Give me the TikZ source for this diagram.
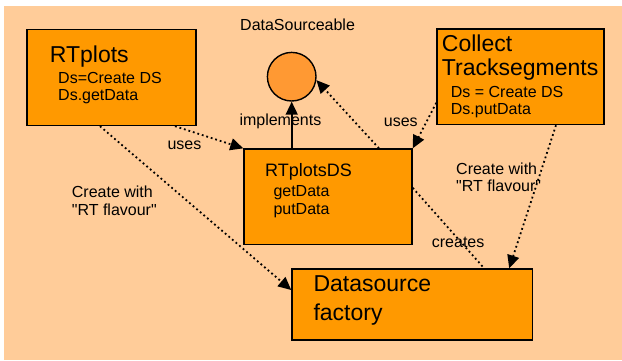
\documentclass[tikz,border=0pt]{standalone}
\usepackage{fontspec}
\setmainfont{Liberation Sans}[Ligatures=TeXOff]
\usetikzlibrary{arrows.meta,calc,positioning}
\definecolor{peach}{HTML}{FFCC99}
\definecolor{boxorange}{HTML}{FF9900}
\definecolor{ifaceorange}{HTML}{FF9933}

\begin{document}
\begin{tikzpicture}[x=1pt, y=-1pt,
    box/.style={draw, line width=1.4pt, fill=boxorange, inner sep=0pt},
    big/.style={font=\fontsize{23}{28.3}\selectfont, align=left, inner sep=0pt, anchor=base west},
    mid/.style={font=\fontsize{18}{21}\selectfont, inner sep=0pt, anchor=base west},
    small/.style={font=\fontsize{16}{17.7}\selectfont, align=left, inner sep=0pt, anchor=base west},
    uses/.style={line width=1.8pt, dash pattern=on 1.8pt off 2.9pt, -{Triangle[length=13pt,width=12pt]}},
    impl/.style={line width=1.6pt, -{Triangle[length=13pt,width=12pt]}}]
    \useasboundingbox (0,0) rectangle (622,360);
    \fill[peach] (4,6) rectangle (622,360);

    % Interface
    \node (iface) [draw, circle, line width=1.4pt, fill=ifaceorange, minimum size=48.6pt, inner sep=0pt] at (291.7,76.7) {};
    \node (ifaceName) [small] at (240,30.7) {DataSourceable};

    % Boxes (multi-line texts sit on their last baseline)
    \node (rtp) [box, minimum width=169pt, minimum height=96pt] at (111.5,77.5) {};
    \node (rtpTitle) [big] at (49.7,62.3) {RTplots};
    \node (rtpBody) [small] at (58,100.7) {Ds=Create DS\\Ds.getData};

    \node (rtds) [box, minimum width=168pt, minimum height=95.5pt] at (328,196.8) {};
    \node (rtdsTitle) [mid] at (265,176) {RTplotsDS};
    \node (rtdsBody) [small] at (273.3,214) {getData\\putData};

    \node (coll) [box, minimum width=167pt, minimum height=95.5pt] at (520.5,76.8) {};
    \node (collTitle) [big, font=\fontsize{23}{23.3}\selectfont] at (441.7,75) {Collect\\Tracksegments};
    \node (collBody) [small, font=\fontsize{16}{17}\selectfont] at (450.7,114.3) {Ds = Create DS\\Ds.putData};

    \node (dsf) [box, minimum width=240.5pt, minimum height=71pt] at (412.2,304.5) {};
    \node (dsfTitle) [big] at (313.3,320) {Datasource\\factory};

    % Labels
    \node (lblImpl) [small] at (239.3,125) {implements};
    \node (lblUsesL) [small] at (167.3,149.3) {uses};
    \node (lblUsesR) [small] at (383.7,126) {uses};
    \node (lblCreateL) [small] at (71.7,215) {Create with\\"RT flavour"};
    \node (lblCreateR) [small] at (456,191.7) {Create with\\"RT flavour"};
    \node (lblCreates) [small] at (431.7,247.7) {creates};

    % Arrows
    \draw[impl] (iface |- rtds.north) -- (iface.south);
    \draw[uses] ([xshift=51pt]rtds.north) -- (iface.-8);
    \draw[uses] ([xshift=63.5pt]rtp.south) -- (rtds.north west);
    \draw[uses] ([yshift=-26pt]coll.west) -- (rtds.north east);
    \draw[uses] ([xshift=-11.5pt]rtp.south) -- ($(dsf.north west)!0.3!(dsf.south west)$);
    \draw[uses] ([xshift=35.5pt]coll.south) -- ([xshift=97pt]dsf.north);
    \draw[uses, -] ([yshift=9pt]rtds.east) -- ([xshift=72pt]dsf.north);
\end{tikzpicture}
\end{document}
